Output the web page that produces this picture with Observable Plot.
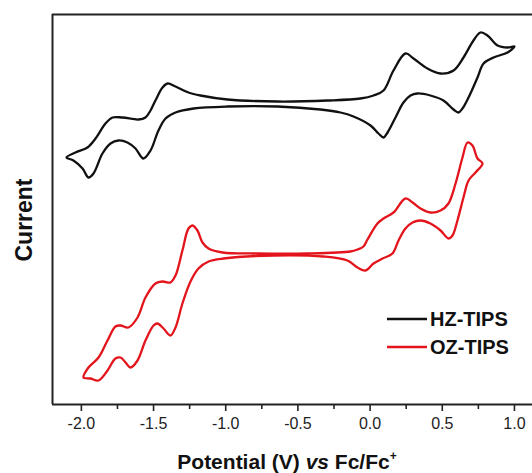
<!DOCTYPE html>
<html>
<head>
<meta charset="utf-8">
<script src="https://cdn.jsdelivr.net/npm/d3@7"></script>
<script src="https://cdn.jsdelivr.net/npm/@observablehq/plot@0.6"></script>
<style>
  body { margin: 0; background: #fff; }
  #chart { width: 532px; height: 473px; }
</style>
</head>
<body>
<div id="chart"></div>
<script>
// HZ-TIPS cyclic voltammogram (closed loop), potential in V vs Fc/Fc+, current in arbitrary units
const hzPotential = [
  -2.103, -2.041, -1.958, -1.902, -1.833, -1.784, -1.715, -1.604, -1.556, -1.521, -1.487, -1.438, -1.403, -1.348, -1.258, -1.175,
  -0.988, -0.641, -0.295, -0.067, 0.024, 0.093, 0.162, 0.245, 0.301, 0.398, 0.488, 0.578, 0.647, 0.716, 0.765, 0.813, 0.883, 0.952, 1.000,
  0.952, 0.855, 0.786, 0.744, 0.682, 0.640, 0.612, 0.578, 0.508, 0.418, 0.328, 0.280, 0.231, 0.176, 0.121, 0.093, 0.058, 0.003,
  -0.115, -0.205, -0.344, -0.641, -0.988, -1.223, -1.348, -1.417, -1.466, -1.521, -1.570, -1.625, -1.681, -1.743, -1.798, -1.854,
  -1.916, -1.951, -1.992, -2.055
];
const hzCurrent = [
  247, 252, 257, 266, 281, 287, 287, 285, 287, 294, 304, 317, 321, 318, 312, 309,
  305, 303, 304, 306, 309, 314, 334, 351, 346, 336, 331, 334, 347, 364, 372, 369, 359, 357, 358,
  352, 347, 341, 327, 307, 296, 292, 295, 304, 309, 311, 309, 302, 287, 272, 267, 271, 279,
  288, 292, 295, 298, 298, 296, 292, 286, 274, 254, 246, 256, 262, 264, 261, 251,
  231, 227, 236, 244
];
// OZ-TIPS cyclic voltammogram (closed loop)
const ozPotential = [
  -1.985, -1.951, -1.881, -1.819, -1.764, -1.729, -1.674, -1.611, -1.556, -1.487, -1.438, -1.383, -1.348, -1.300, -1.258, -1.230,
  -1.196, -1.161, -1.119, -1.022, -0.780, -0.434, -0.136, -0.087, -0.046, -0.018, 0.051, 0.093, 0.162, 0.245, 0.294, 0.349,
  0.418, 0.488, 0.543, 0.592, 0.640, 0.675, 0.709, 0.744, 0.779,
  0.730, 0.682, 0.647, 0.605, 0.571, 0.543, 0.488, 0.418, 0.349, 0.294, 0.245, 0.197, 0.155, 0.086, 0.024, -0.032, -0.087,
  -0.157, -0.323, -0.669, -1.016, -1.119, -1.189, -1.244, -1.300, -1.348, -1.383, -1.431, -1.473, -1.500, -1.556, -1.611,
  -1.660, -1.694, -1.729, -1.764, -1.819, -1.881, -1.937
];
const ozCurrent = [
  27, 37, 47, 64, 78, 79, 77, 87, 107, 121, 123, 122, 129, 154, 176, 179,
  174, 162, 156, 152, 151, 151, 153, 155, 158, 165, 181, 186, 192, 206, 202, 196,
  192, 194, 201, 221, 247, 262, 259, 246, 241,
  232, 224, 207, 184, 169, 166, 174, 181, 184, 182, 176, 164, 151, 146, 141, 134, 137,
  144, 148, 149, 146, 143, 136, 123, 101, 77, 69, 76, 81, 79, 64, 44,
  37, 42, 47, 46, 34, 24, 26
];
const seriesNames = ["HZ-TIPS", "OZ-TIPS"];
const seriesColors = ["#111111", "#e3141b"];
const majorTicks = [-2.0, -1.5, -1.0, -0.5, 0.0, 0.5, 1.0];
const minorTicks = [-1.75, -1.25, -0.75, -0.25, 0.25, 0.75];
const xDomain = [-2.2, 1.125];
const yDomain = [0, 390];

const hz = hzPotential.map((v, i) => ({potential: v, current: hzCurrent[i]}));
const oz = ozPotential.map((v, i) => ({potential: v, current: ozCurrent[i]}));

const font = "'Liberation Sans', Arial, Helvetica, sans-serif";
const axisColor = "#222";

const chart = Plot.plot({
  width: 532,
  height: 473,
  marginLeft: 52,
  marginRight: 0,
  marginTop: 14,
  marginBottom: 69,
  style: {fontFamily: font, fontSize: "16px", color: axisColor, background: "#fff"},
  x: {domain: xDomain},
  y: {domain: yDomain},
  marks: [
    Plot.axisX({ticks: minorTicks, tickSize: 5, text: null, stroke: axisColor, strokeWidth: 1.6, label: null}),
    Plot.axisX({ticks: majorTicks, tickSize: 7, tickPadding: 6, tickFormat: d => d.toFixed(1),
      stroke: axisColor, strokeWidth: 1.6, fill: axisColor, fontSize: 16, label: null}),
    Plot.axisY({ticks: [], label: null}),
    Plot.ruleX([xDomain[0]], {stroke: axisColor, strokeWidth: 2}),
    Plot.ruleY([yDomain[0], yDomain[1]], {stroke: axisColor, strokeWidth: 2}),
    Plot.line(hz, {x: "potential", y: "current", stroke: seriesColors[0], strokeWidth: 2.3, curve: "catmull-rom-closed"}),
    Plot.line(oz, {x: "potential", y: "current", stroke: seriesColors[1], strokeWidth: 2.3, curve: "catmull-rom-closed"})
  ]
});

const svg = d3.select(chart);

// Axis titles
const xt = svg.append("text")
  .attr("x", 287).attr("y", 469)
  .attr("text-anchor", "middle")
  .attr("font-family", font).attr("font-size", 21).attr("font-weight", "bold").attr("fill", "#111");
xt.append("tspan").text("Potential (V) ");
xt.append("tspan").attr("font-style", "italic").text("vs");
xt.append("tspan").text(" Fc/Fc");
xt.append("tspan").attr("font-size", 12).attr("dy", -9).text("+");

svg.append("text")
  .attr("transform", "translate(32,220) rotate(-90)")
  .attr("text-anchor", "middle")
  .attr("font-family", font).attr("font-size", 23).attr("font-weight", "bold").attr("fill", "#111")
  .text("Current");

// Legend
const legendRows = [319, 347];
seriesNames.forEach((name, i) => {
  const g = svg.append("g").attr("transform", `translate(387,${legendRows[i]})`);
  g.append("line").attr("x1", 0).attr("x2", 40).attr("y1", 0).attr("y2", 0)
    .attr("stroke", seriesColors[i]).attr("stroke-width", 2.3);
  g.append("text").attr("x", 43).attr("y", 0).attr("dy", "0.36em")
    .attr("text-anchor", "start")
    .attr("font-family", font).attr("font-size", 20).attr("font-weight", "bold").attr("fill", "#111")
    .text(name);
});

document.getElementById("chart").appendChild(chart);
</script>
</body>
</html>
